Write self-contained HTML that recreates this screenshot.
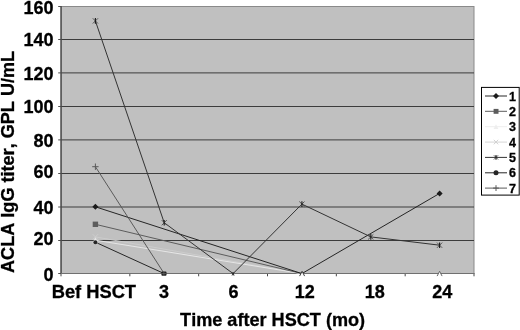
<!DOCTYPE html>
<html><head><meta charset="utf-8"><title>chart</title>
<style>
html,body{margin:0;padding:0;background:#fff;}
body{width:520px;height:330px;overflow:hidden;}
svg{display:block;filter:blur(0.35px);}
text{font-family:"Liberation Sans",Arial,sans-serif;font-weight:bold;fill:#000;font-kerning:none;stroke:#000;stroke-width:0.3px;}
</style></head><body>
<svg width="520" height="330" viewBox="0 0 520 330">
<rect x="0" y="0" width="520" height="330" fill="#ffffff"/>
<rect x="61.0" y="6.5" width="413.0" height="267.0" fill="#c0c0c0" stroke="#8a8a8a" stroke-width="1"/>
<line x1="61.0" y1="240.50" x2="474.0" y2="240.50" stroke="#3c3c3c" stroke-width="1"/>
<line x1="61.0" y1="207.00" x2="474.0" y2="207.00" stroke="#3c3c3c" stroke-width="1"/>
<line x1="61.0" y1="173.50" x2="474.0" y2="173.50" stroke="#3c3c3c" stroke-width="1"/>
<line x1="61.0" y1="139.90" x2="474.0" y2="139.90" stroke="#3c3c3c" stroke-width="1"/>
<line x1="61.0" y1="106.50" x2="474.0" y2="106.50" stroke="#3c3c3c" stroke-width="1"/>
<line x1="61.0" y1="72.90" x2="474.0" y2="72.90" stroke="#3c3c3c" stroke-width="1"/>
<line x1="61.0" y1="39.50" x2="474.0" y2="39.50" stroke="#3c3c3c" stroke-width="1"/>
<line x1="58.2" y1="273.50" x2="61.0" y2="273.50" stroke="#505050" stroke-width="1"/>
<line x1="58.2" y1="240.50" x2="61.0" y2="240.50" stroke="#505050" stroke-width="1"/>
<line x1="58.2" y1="207.00" x2="61.0" y2="207.00" stroke="#505050" stroke-width="1"/>
<line x1="58.2" y1="173.50" x2="61.0" y2="173.50" stroke="#505050" stroke-width="1"/>
<line x1="58.2" y1="139.90" x2="61.0" y2="139.90" stroke="#505050" stroke-width="1"/>
<line x1="58.2" y1="106.50" x2="61.0" y2="106.50" stroke="#505050" stroke-width="1"/>
<line x1="58.2" y1="72.90" x2="61.0" y2="72.90" stroke="#505050" stroke-width="1"/>
<line x1="58.2" y1="39.50" x2="61.0" y2="39.50" stroke="#505050" stroke-width="1"/>
<line x1="58.2" y1="6.50" x2="61.0" y2="6.50" stroke="#505050" stroke-width="1"/>
<line x1="61.00" y1="273.5" x2="61.00" y2="276.3" stroke="#484848" stroke-width="1"/>
<line x1="129.83" y1="273.5" x2="129.83" y2="276.3" stroke="#484848" stroke-width="1"/>
<line x1="198.67" y1="273.5" x2="198.67" y2="276.3" stroke="#484848" stroke-width="1"/>
<line x1="267.50" y1="273.5" x2="267.50" y2="276.3" stroke="#484848" stroke-width="1"/>
<line x1="336.33" y1="273.5" x2="336.33" y2="276.3" stroke="#484848" stroke-width="1"/>
<line x1="405.17" y1="273.5" x2="405.17" y2="276.3" stroke="#484848" stroke-width="1"/>
<line x1="474.00" y1="273.5" x2="474.00" y2="276.3" stroke="#484848" stroke-width="1"/>
<line x1="61.1" y1="6.0" x2="61.1" y2="274.0" stroke="#4c4c4c" stroke-width="1.4"/>
<line x1="61.0" y1="273.5" x2="474.5" y2="273.5" stroke="#707070" stroke-width="1.1"/>
<path d="M95.4 236.9 L301.9 273.6" fill="none" stroke="#cdcdcd" stroke-width="0.9"/>
<path d="M95.4 240.2 L301.9 273.6" fill="none" stroke="#e6e6e6" stroke-width="1.0"/>
<path d="M95.4 224.3 L301.9 273.6" fill="none" stroke="#5c5c5c" stroke-width="1.0"/>
<path d="M95.4 206.8 L301.9 273.6 L439.6 193.4" fill="none" stroke="#1c1c1c" stroke-width="0.95"/>
<path d="M95.4 166.7 L164.2 273.6" fill="none" stroke="#5a5a5a" stroke-width="1.0"/>
<path d="M95.4 242.2 L164.2 273.6" fill="none" stroke="#262626" stroke-width="1.0"/>
<path d="M95.4 20.9 L164.2 222.7 L233.1 273.6 L301.9 204.1 L370.8 236.9 L439.6 245.2" fill="none" stroke="#333333" stroke-width="1.0"/>
<path d="M92.6 234.1L98.2 239.7M98.2 234.1L92.6 239.7" stroke="#cdcdcd" stroke-width="1" fill="none"/>
<path d="M95.4 237.2L98.4 243.2L92.4 243.2Z" fill="#e6e6e6"/>
<rect x="92.7" y="221.6" width="5.4" height="5.4" fill="#5c5c5c"/>
<path d="M95.4 203.8L98.4 206.8L95.4 209.8L92.4 206.8Z" fill="#1c1c1c"/>
<path d="M439.6 190.4L442.6 193.4L439.6 196.4L436.6 193.4Z" fill="#1c1c1c"/>
<path d="M92.2 166.7L98.6 166.7M95.4 163.5L95.4 169.9" stroke="#5a5a5a" stroke-width="1" fill="none"/>
<circle cx="95.4" cy="242.2" r="2.0" fill="#262626"/>
<path d="M92.8 18.3L98.0 23.5M98.0 18.3L92.8 23.5" stroke="#4a4a4a" stroke-width="0.9" fill="none"/><path d="M95.4 18.1L95.4 23.7" stroke="#1a1a1a" stroke-width="1.1" fill="none"/>
<path d="M161.7 220.1L166.8 225.3M166.8 220.1L161.7 225.3" stroke="#4a4a4a" stroke-width="0.9" fill="none"/><path d="M164.2 219.9L164.2 225.5" stroke="#1a1a1a" stroke-width="1.1" fill="none"/>
<path d="M299.3 201.5L304.5 206.7M304.5 201.5L299.3 206.7" stroke="#4a4a4a" stroke-width="0.9" fill="none"/><path d="M301.9 201.3L301.9 206.9" stroke="#1a1a1a" stroke-width="1.1" fill="none"/>
<path d="M368.1 234.3L373.4 239.5M373.4 234.3L368.1 239.5" stroke="#4a4a4a" stroke-width="0.9" fill="none"/><path d="M370.8 234.1L370.8 239.7" stroke="#1a1a1a" stroke-width="1.1" fill="none"/>
<path d="M437.0 242.6L442.2 247.8M442.2 242.6L437.0 247.8" stroke="#4a4a4a" stroke-width="0.9" fill="none"/><path d="M439.6 242.4L439.6 248.0" stroke="#1a1a1a" stroke-width="1.1" fill="none"/>
<rect x="161.4" y="271.6" width="5.1" height="4.1" rx="0.9" fill="#1e1e1e"/>
<path d="M161.3 273.6L166.5 273.6M163.9 271.1L163.9 275.9" stroke="#6a6a6a" stroke-width="0.7" fill="none"/>
<path d="M231.7 272.4L234.5 275.2M234.5 272.4L231.7 275.2" stroke="#4a4a4a" stroke-width="0.9" fill="none"/><path d="M233.1 272.2L233.1 275.4" stroke="#1a1a1a" stroke-width="1.1" fill="none"/>
<path d="M299.6 276.1L302.1 271.3L304.6 276.1Z" fill="#fbfbfb"/>
<path d="M299.6 276.1L302.1 271.3L304.6 276.1" fill="none" stroke="#2a2a2a" stroke-width="0.9"/>
<path d="M437.1 276.1L439.6 271.3L442.1 276.1Z" fill="#fbfbfb"/>
<path d="M437.1 276.1L439.6 271.3L442.1 276.1" fill="none" stroke="#5a5a5a" stroke-width="0.9"/>
<text x="53.6" y="280.5" font-size="18" text-anchor="end">0</text>
<text x="53.6" y="245.1" font-size="18" text-anchor="end">20</text>
<text x="53.6" y="213.7" font-size="18" text-anchor="end">40</text>
<text x="53.6" y="178.3" font-size="18" text-anchor="end">60</text>
<text x="53.6" y="147.0" font-size="18" text-anchor="end">80</text>
<text x="53.6" y="112.6" font-size="18" text-anchor="end">100</text>
<text x="53.6" y="79.5" font-size="18" text-anchor="end">120</text>
<text x="53.6" y="45.9" font-size="18" text-anchor="end">140</text>
<text x="53.6" y="13.5" font-size="18" text-anchor="end">160</text>
<text x="93.9" y="298.1" font-size="18.3" text-anchor="middle">Bef HSCT</text>
<text x="164.0" y="298.1" font-size="18" text-anchor="middle">3</text>
<text x="233.4" y="298.1" font-size="18" text-anchor="middle">6</text>
<text x="304.7" y="298.1" font-size="18" text-anchor="middle">12</text>
<text x="374.7" y="298.1" font-size="18" text-anchor="middle">18</text>
<text x="442.3" y="298.1" font-size="18" text-anchor="middle">24</text>
<text x="272.6" y="325.5" font-size="18.1" text-anchor="middle">Time after HSCT (mo)</text>
<text transform="translate(14.3,161.9) rotate(-90)" font-size="18.1" text-anchor="middle">ACLA IgG titer, GPL U/mL</text>
<rect x="481.5" y="87.4" width="37.7" height="107.7" fill="#ffffff" stroke="#000" stroke-width="1"/>
<line x1="485" y1="96.0" x2="507" y2="96.0" stroke="#1c1c1c" stroke-width="0.95"/>
<path d="M496.0 93.0L499.0 96.0L496.0 99.0L493.0 96.0Z" fill="#1c1c1c"/>
<text x="509" y="100.6" font-size="12.5">1</text>
<line x1="485" y1="111.3" x2="507" y2="111.3" stroke="#5c5c5c" stroke-width="1.0"/>
<rect x="493.6" y="108.9" width="4.9" height="4.9" fill="#5c5c5c"/>
<text x="509" y="115.9" font-size="12.5">2</text>
<line x1="485" y1="126.7" x2="507" y2="126.7" stroke="#eeeeee" stroke-width="1.0"/>
<path d="M496.0 124.3L498.4 129.1L493.6 129.1Z" fill="#eeeeee"/>
<text x="509" y="131.3" font-size="12.5">3</text>
<line x1="485" y1="142.1" x2="507" y2="142.1" stroke="#d2d2d2" stroke-width="0.9"/>
<path d="M493.8 139.8L498.2 144.3M498.2 139.8L493.8 144.3" stroke="#d2d2d2" stroke-width="1" fill="none"/>
<text x="509" y="146.7" font-size="12.5">4</text>
<line x1="485" y1="157.4" x2="507" y2="157.4" stroke="#333333" stroke-width="1.0"/>
<path d="M493.9 155.3L498.1 159.5M498.1 155.3L493.9 159.5" stroke="#4a4a4a" stroke-width="0.9" fill="none"/><path d="M496.0 155.1L496.0 159.7" stroke="#1a1a1a" stroke-width="1.1" fill="none"/>
<text x="509" y="162.0" font-size="12.5">5</text>
<line x1="485" y1="172.8" x2="507" y2="172.8" stroke="#262626" stroke-width="1.0"/>
<circle cx="496.0" cy="172.8" r="2.5" fill="#262626"/>
<text x="509" y="177.3" font-size="12.5">6</text>
<line x1="485" y1="188.1" x2="507" y2="188.1" stroke="#5a5a5a" stroke-width="1.0"/>
<path d="M493.1 188.1L498.9 188.1M496.0 185.2L496.0 191.0" stroke="#5a5a5a" stroke-width="1" fill="none"/>
<text x="509" y="192.7" font-size="12.5">7</text>
</svg></body></html>
